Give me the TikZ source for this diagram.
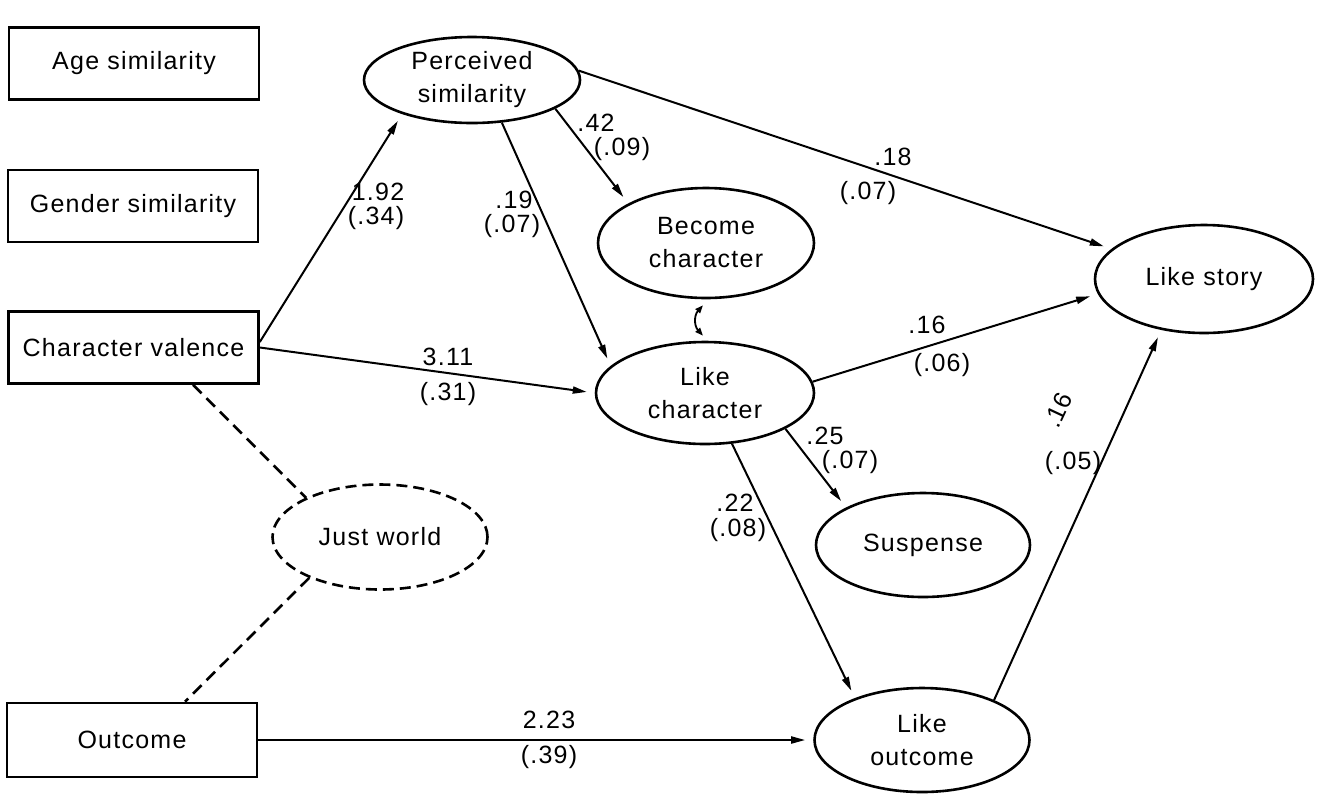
\documentclass[tikz,border=0pt]{standalone}
\usepackage{fontspec}
\setmainfont{Liberation Sans}[LetterSpace=5]
\usetikzlibrary{arrows.meta,shapes.geometric}
\begin{document}
\begin{tikzpicture}[x=1pt,y=-1pt,
  font=\fontsize{25}{33}\selectfont,
  box/.style={draw, line width=2.6pt, rectangle, inner sep=0pt, minimum width=250pt, minimum height=72pt},
  oval/.style={draw, line width=2.6pt, ellipse, inner sep=0pt, align=center},
  dashoval/.style={oval, dash pattern=on 11pt off 6pt},
  arr/.style={line width=2pt, -{Triangle[length=14pt,width=7pt]}, shorten >=8pt},
  corr/.style={line width=2.6pt, dash pattern=on 12pt off 7pt},
  num/.style={inner sep=0pt}]
\useasboundingbox (0,0) rectangle (1321,796);
% boxes
\node[box] (age) at (134,63.5) {Age similarity};
\node[box] (gender) at (133,206) {Gender similarity};
\node[box] (valence) at (133.5,347.5) {Character valence};
\node[box, minimum height=74pt] (outcome) at (132,740) {Outcome};
% ellipses
\node[oval, minimum width=216pt, minimum height=86pt] (perc) at (472,80) {Perceived\\similarity};
\node[oval, minimum width=216pt, minimum height=110pt] (become) at (706,243) {Become\\character};
\node[oval, minimum width=218pt, minimum height=102pt] (likechar) at (705,393) {Like\\character};
\node[oval, minimum width=218pt, minimum height=108pt] (likestory) at (1204,279) {Like story};
\node[oval, minimum width=214pt, minimum height=104pt] (suspense) at (923,545) {Suspense};
\node[oval, minimum width=215pt, minimum height=104pt] (likeout) at (922,740) {Like\\outcome};
\node[dashoval, minimum width=215pt, minimum height=105pt] (just) at (380,537) {Just world};
% paths
\draw[arr] ([yshift=5.5pt]valence.east) -- (perc.206);
\draw[arr] (valence.east) -- (likechar.180);
\draw[arr] (perc.305) -- (likechar.164.5);
\draw[arr] (perc.341) -- (become.153);
\draw[arr] (perc.5.4) -- (likestory.162);
\draw[arr] (likechar.6) -- (likestory.188);
\draw[arr] (likechar.336) -- (suspense.154);
\draw[arr] (likechar.298) -- (likeout.148);
\draw[arr] (outcome.east) -- (likeout.west);
\draw[arr] (likeout.29) -- (likestory.230);
% correlations
\draw[corr] ([xshift=59.5pt]valence.south) -- (just.152);
\draw[corr] (just.210.8) -- ([xshift=53pt]outcome.north);
\draw[line width=1.8pt, {Triangle[length=8pt,width=6pt]}-{Triangle[length=8pt,width=6pt]}]
  ([xshift=-3pt,yshift=-6pt]become.south) .. controls +(-9,10) and +(-9,-10) .. ([xshift=-2pt,yshift=5pt]likechar.north);
% labels
\node[num] (n1a) at (378,192) {1.92};
\node[num] (n1b) at (376,218) {(.34)};
\node[num] (n2a) at (514,200) {.19};
\node[num] (n2b) at (512,226) {(.07)};
\node[num] (n3a) at (596,123) {.42};
\node[num] (n3b) at (622,149) {(.09)};
\node[num] (n4a) at (893,157) {.18};
\node[num] (n4b) at (868,193) {(.07)};
\node[num] (n5a) at (448,357) {3.11};
\node[num] (n5b) at (448,394) {(.31)};
\node[num] (n6a) at (927,325) {.16};
\node[num] (n6b) at (942,365) {(.06)};
\node[num] (n7a) at (825,436) {.25};
\node[num] (n7b) at (850,462) {(.07)};
\node[num] (n8a) at (735,503) {.22};
\node[num] (n8b) at (738,530) {(.08)};
\node[num] (n9a) at (549,720) {2.23};
\node[num] (n9b) at (549,757) {(.39)};
\node[num, rotate=65, font=\fontsize{25}{33}\selectfont\addfontfeatures{LetterSpace=0}] (n10a) at (1058,410) {.16};
\node[num] (n10b) at (1073,463) {(.05)};
\end{tikzpicture}
\end{document}
